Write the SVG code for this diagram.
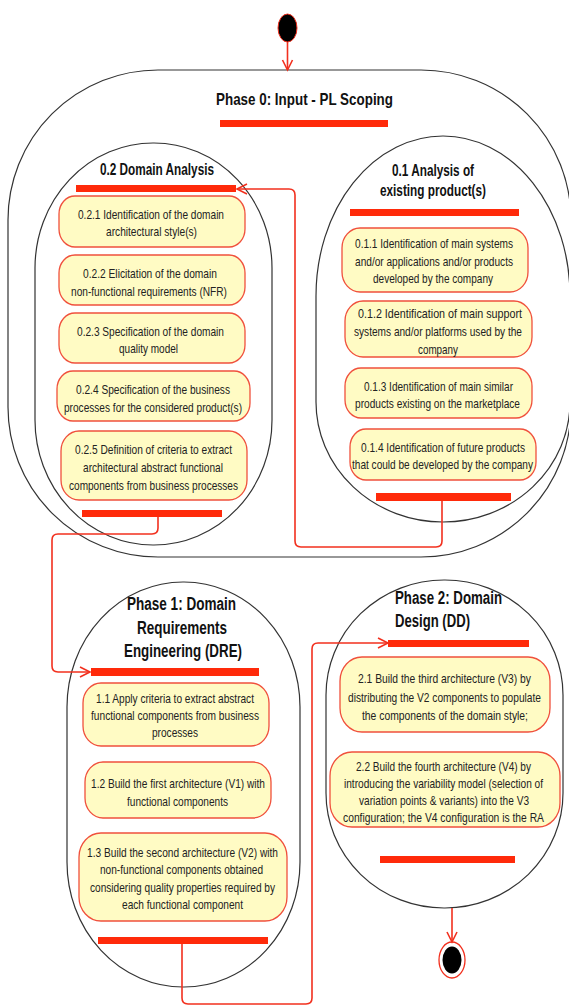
<svg xmlns="http://www.w3.org/2000/svg" width="569" height="1008" viewBox="0 0 569 1008">
<style>
.cont{fill:none;stroke:#333;stroke-width:1.2}
.box{fill:#FFFBC4;stroke:#F0503C;stroke-width:1.3}
.bar{fill:#FF2A0A}
.t{font-family:"Liberation Sans",Arial,sans-serif;font-size:13.5px;fill:#222;text-anchor:middle}
.h{font-family:"Liberation Sans",Arial,sans-serif;font-weight:bold;fill:#111;text-anchor:middle}
.conn{fill:none;stroke:#F2301E;stroke-width:1.6}
</style>
<defs>
<marker id="arr" markerUnits="userSpaceOnUse" markerWidth="14" markerHeight="14" refX="11" refY="6" orient="auto">
<path d="M1,1 L11,6 L1,11" fill="none" stroke="#F2301E" stroke-width="1.6"/>
</marker>
</defs>
<rect width="569" height="1008" fill="#fff"/>

<g id="start">
<ellipse cx="287.5" cy="28" rx="9.5" ry="14" fill="#000" stroke="#F2301E" stroke-width="1"/>
</g>

<g id="phase0">
<rect class="cont" x="8" y="70" width="563" height="487" rx="150" ry="150"/>
<text class="h" x="304.5" y="105" font-size="17" textLength="177" lengthAdjust="spacingAndGlyphs">Phase 0: Input - PL Scoping</text>
<rect class="bar" x="220" y="120" width="168" height="7"/>
</g>

<g id="domain-analysis">
<rect class="cont" x="35" y="143" width="237" height="402" rx="118" ry="125"/>
<text class="h" x="157" y="175" font-size="16" textLength="114" lengthAdjust="spacingAndGlyphs">0.2 Domain Analysis</text>
<rect class="bar" x="76" y="185" width="160" height="7"/>
<rect class="bar" x="82" y="510" width="140" height="7"/>
</g>

<g id="n021">
<rect class="box" x="59" y="196" width="186" height="51" rx="16" ry="18"/>
<text class="t" x="151" y="219" textLength="146" lengthAdjust="spacingAndGlyphs">0.2.1 Identification of the domain</text>
<text class="t" x="151.5" y="236" textLength="91" lengthAdjust="spacingAndGlyphs">architectural style(s)</text>
</g>
<g id="n022">
<rect class="box" x="59" y="255" width="186" height="50" rx="16" ry="18"/>
<text class="t" x="150" y="278" textLength="134" lengthAdjust="spacingAndGlyphs">0.2.2 Elicitation of the domain</text>
<text class="t" x="149" y="296" textLength="156" lengthAdjust="spacingAndGlyphs">non-functional requirements (NFR)</text>
</g>
<g id="n023">
<rect class="box" x="59" y="313" width="186" height="50" rx="16" ry="18"/>
<text class="t" x="150.5" y="336" textLength="147" lengthAdjust="spacingAndGlyphs">0.2.3 Specification of the domain</text>
<text class="t" x="148.5" y="353" textLength="59" lengthAdjust="spacingAndGlyphs">quality model</text>
</g>
<g id="n024">
<rect class="box" x="57" y="371" width="193" height="50" rx="16" ry="18"/>
<text class="t" x="153" y="394" textLength="154" lengthAdjust="spacingAndGlyphs">0.2.4 Specification of the business</text>
<text class="t" x="153" y="412" textLength="178" lengthAdjust="spacingAndGlyphs">processes for the considered product(s)</text>
</g>
<g id="n025">
<rect class="box" x="61" y="431" width="186" height="69" rx="18" ry="20"/>
<text class="t" x="153.5" y="454" textLength="157" lengthAdjust="spacingAndGlyphs">0.2.5 Definition of criteria to extract</text>
<text class="t" x="153" y="472" textLength="140" lengthAdjust="spacingAndGlyphs">architectural abstract functional</text>
<text class="t" x="153.5" y="490" textLength="169" lengthAdjust="spacingAndGlyphs">components from business processes</text>
</g>

<g id="existing-products">
<path class="cont" d="M316,296 A127,160 0 0 1 443,136 A127,160 0 0 1 570,296 L570,402 A127,120 0 0 1 443,522 A127,120 0 0 1 316,402 Z"/>
<text class="h" x="433" y="176" font-size="16" textLength="82" lengthAdjust="spacingAndGlyphs">0.1 Analysis of</text>
<text class="h" x="433" y="196" font-size="16" textLength="106" lengthAdjust="spacingAndGlyphs">existing product(s)</text>
<rect class="bar" x="350" y="209" width="169" height="7"/>
<rect class="bar" x="376" y="493" width="135" height="8"/>
</g>

<g id="n011">
<rect class="box" x="342" y="228" width="186" height="64" rx="18" ry="20"/>
<text class="t" x="434" y="248" textLength="158" lengthAdjust="spacingAndGlyphs">0.1.1 Identification of main systems</text>
<text class="t" x="434" y="266" textLength="158" lengthAdjust="spacingAndGlyphs">and/or applications and/or products</text>
<text class="t" x="433" y="283" textLength="120" lengthAdjust="spacingAndGlyphs">developed by the company</text>
</g>
<g id="n012">
<rect class="box" x="345" y="301" width="187" height="56" rx="18" ry="20"/>
<text class="t" x="440" y="318" textLength="164" lengthAdjust="spacingAndGlyphs">0.1.2 Identification of main support</text>
<text class="t" x="438" y="336" textLength="168" lengthAdjust="spacingAndGlyphs">systems and/or platforms used by the</text>
<text class="t" x="438" y="354" textLength="40" lengthAdjust="spacingAndGlyphs">company</text>
</g>
<g id="n013">
<rect class="box" x="345" y="368" width="187" height="50" rx="16" ry="18"/>
<text class="t" x="438.5" y="391" textLength="149" lengthAdjust="spacingAndGlyphs">0.1.3 Identification of main similar</text>
<text class="t" x="437.5" y="408" textLength="165" lengthAdjust="spacingAndGlyphs">products existing on the marketplace</text>
</g>
<g id="n014">
<rect class="box" x="350" y="429" width="186" height="51" rx="16" ry="18"/>
<text class="t" x="443" y="452" textLength="164" lengthAdjust="spacingAndGlyphs">0.1.4 Identification of future products</text>
<text class="t" x="442.5" y="469" textLength="181" lengthAdjust="spacingAndGlyphs">that could be developed by the company</text>
</g>

<g id="phase1">
<rect class="cont" x="67" y="582" width="233" height="405" rx="116" ry="125"/>
<text class="h" x="181.5" y="609.5" font-size="18" textLength="109" lengthAdjust="spacingAndGlyphs">Phase 1: Domain</text>
<text class="h" x="182" y="633.5" font-size="18" textLength="90" lengthAdjust="spacingAndGlyphs">Requirements</text>
<text class="h" x="183" y="656.5" font-size="18" textLength="118" lengthAdjust="spacingAndGlyphs">Engineering (DRE)</text>
<rect class="bar" x="91" y="668" width="168" height="8"/>
<rect class="bar" x="98" y="937" width="170" height="7"/>
</g>

<g id="n11">
<rect class="box" x="83" y="683" width="186" height="63" rx="18" ry="20"/>
<text class="t" x="175" y="703" textLength="158" lengthAdjust="spacingAndGlyphs">1.1 Apply criteria to extract abstract</text>
<text class="t" x="175" y="720" textLength="168" lengthAdjust="spacingAndGlyphs">functional components from business</text>
<text class="t" x="175" y="737" textLength="46" lengthAdjust="spacingAndGlyphs">processes</text>
</g>
<g id="n12">
<rect class="box" x="85" y="762" width="186" height="56" rx="18" ry="20"/>
<text class="t" x="178" y="788" textLength="174" lengthAdjust="spacingAndGlyphs">1.2 Build the first architecture (V1) with</text>
<text class="t" x="177.5" y="806" textLength="101" lengthAdjust="spacingAndGlyphs">functional components</text>
</g>
<g id="n13">
<rect class="box" x="79" y="833" width="208" height="88" rx="22" ry="24"/>
<text class="t" x="182.5" y="857" textLength="191" lengthAdjust="spacingAndGlyphs">1.3 Build the second architecture (V2) with</text>
<text class="t" x="181.5" y="874" textLength="163" lengthAdjust="spacingAndGlyphs">non-functional components obtained</text>
<text class="t" x="182.5" y="892" textLength="185" lengthAdjust="spacingAndGlyphs">considering quality properties required by</text>
<text class="t" x="182.5" y="909" textLength="121" lengthAdjust="spacingAndGlyphs">each functional component</text>
</g>

<g id="phase2">
<rect class="cont" x="326" y="580" width="237" height="328" rx="118" ry="115"/>
<text class="h" x="395" y="603.5" font-size="18" style="text-anchor:start" textLength="107" lengthAdjust="spacingAndGlyphs">Phase 2: Domain</text>
<text class="h" x="395" y="626.5" font-size="18" style="text-anchor:start" textLength="75" lengthAdjust="spacingAndGlyphs">Design (DD)</text>
<rect class="bar" x="388" y="640" width="141" height="7"/>
<rect class="bar" x="380" y="856" width="135" height="7"/>
</g>

<g id="n21">
<rect class="box" x="340" y="657" width="210" height="75" rx="22" ry="24"/>
<text class="t" x="444.5" y="683" textLength="173" lengthAdjust="spacingAndGlyphs">2.1 Build the third architecture (V3) by</text>
<text class="t" x="444.5" y="702" textLength="193" lengthAdjust="spacingAndGlyphs">distributing the V2 components to populate</text>
<text class="t" x="445" y="720" textLength="166" lengthAdjust="spacingAndGlyphs">the components of the domain style;</text>
</g>
<g id="n22">
<rect class="box" x="330" y="752" width="230" height="75" rx="22" ry="24"/>
<text class="t" x="443.5" y="771" textLength="175" lengthAdjust="spacingAndGlyphs">2.2 Build the fourth architecture (V4) by</text>
<text class="t" x="443.5" y="788" textLength="199" lengthAdjust="spacingAndGlyphs">introducing the variability model (selection of</text>
<text class="t" x="444" y="805" textLength="170" lengthAdjust="spacingAndGlyphs">variation points &amp; variants) into the V3</text>
<text class="t" x="443.5" y="822" textLength="201" lengthAdjust="spacingAndGlyphs">configuration; the V4 configuration is the  RA</text>
</g>

<g id="end">
<ellipse cx="452" cy="960" rx="13" ry="18" fill="#fff" stroke="#F2301E" stroke-width="1.3"/>
<ellipse cx="452" cy="960" rx="9.5" ry="13.5" fill="#000"/>
</g>

<g id="connectors">
<path class="conn" d="M287.5,42 L287.5,70" marker-end="url(#arr)"/>
<path class="conn" d="M442,501 L442,541 Q442,547 436,547 L301,547 Q295,547 295,541 L295,195 Q295,189 289,189 L237,189" marker-end="url(#arr)"/>
<path class="conn" d="M158,517 L158,528 Q158,534 152,534 L58,534 Q52,534 52,540 L52,666 Q52,672 58,672 L90,672" marker-end="url(#arr)"/>
<path class="conn" d="M182,944 L182,998 Q182,1004 188,1004 L306,1004 Q312,1004 312,998 L312,649 Q312,643 318,643 L388,643" marker-end="url(#arr)"/>
<path class="conn" d="M452,908 L452,942" marker-end="url(#arr)"/>
</g>
</svg>
